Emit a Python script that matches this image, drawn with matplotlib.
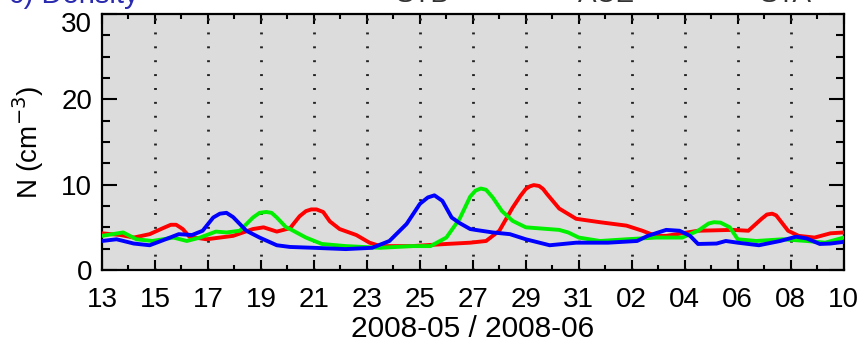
import numpy as np
import pandas as pd
import matplotlib
matplotlib.use("Agg")
import matplotlib.pyplot as plt
import matplotlib.dates as mdates
from matplotlib.transforms import ScaledTranslation

plt.rcParams['font.family'] = ['Liberation Sans', 'DejaVu Sans']

START = pd.Timestamp("2008-05-13")
END = pd.Timestamp("2008-06-10")

# Proton density samples: (days since 2008-05-13, N in cm^-3)
red_days = [0, 0.7, 1.2, 1.8, 2.3, 2.6, 2.8, 3.05, 3.3, 3.95, 4.95, 5.7, 6.1, 6.6,
            7.1, 7.46, 7.7, 7.9, 8.1, 8.35, 8.6, 8.97, 9.6, 10.1, 10.5, 11.7,
            13.0, 13.9, 14.5, 15.0, 15.5, 15.8, 16.0, 16.15, 16.3, 16.5, 16.65,
            16.8, 17.26, 17.9, 18.8, 19.8, 20.4, 20.9, 21.3, 22.5, 23.8, 24.4,
            24.9, 25.1, 25.3, 25.45, 25.9, 26.3, 26.9, 27.5, 28.0]
red_n = [4.3, 4.1, 3.8, 4.2, 4.9, 5.3, 5.3, 4.8, 3.9, 3.6, 4.0, 4.8, 5.0, 4.5,
         4.9, 6.3, 6.9, 7.1, 7.1, 6.8, 5.7, 4.8, 4.1, 3.2, 2.8, 2.8,
         3.05, 3.2, 3.4, 4.6, 7.3, 8.7, 9.5, 9.8, 9.95, 9.85, 9.5,
         8.9, 7.2, 6.0, 5.6, 5.2, 4.6, 4.0, 4.0, 4.6, 4.7, 4.6,
         6.0, 6.5, 6.6, 6.4, 4.6, 4.0, 3.8, 4.3, 4.4]

green_days = [0, 0.8, 1.3, 1.9, 2.7, 3.2, 3.7, 4.3, 4.7, 5.2, 5.7, 5.95, 6.2, 6.4,
              6.6, 6.95, 7.1, 7.7, 8.3, 9.2, 10.5, 11.7, 12.4, 13.0, 13.5, 13.9,
              14.1, 14.3, 14.5, 14.75, 15.1, 15.5, 16.0, 17.26, 17.6, 18.0, 18.8,
              19.8, 20.9, 21.9, 22.5, 22.9, 23.1, 23.35, 23.7, 24.0, 24.7, 25.7,
              26.6, 27.3, 28.0]
green_n = [4.0, 4.4, 3.6, 3.4, 3.8, 3.4, 3.8, 4.5, 4.4, 4.6, 6.15, 6.7, 6.8, 6.7,
           6.15, 5.0, 4.8, 3.8, 3.05, 2.8, 2.6, 2.8, 2.8, 3.8, 6.0, 8.6,
           9.3, 9.55, 9.4, 8.5, 6.9, 5.76, 5.0, 4.7, 4.4, 3.8, 3.4,
           3.6, 3.8, 3.8, 4.6, 5.45, 5.6, 5.55, 5.0, 3.6, 3.4, 3.6,
           3.4, 3.2, 3.8]

blue_days = [0, 0.55, 1.2, 1.8, 2.4, 2.9, 3.4, 3.8, 4.2, 4.45, 4.7, 4.95, 5.45,
             5.95, 6.6, 7.1, 8.0, 9.2, 10.2, 10.85, 11.5, 12.0, 12.3, 12.55,
             12.85, 13.2, 13.5, 13.9, 14.1, 14.75, 15.4, 16.0, 16.9, 17.9, 19.1,
             20.2, 20.6, 21.3, 21.8, 22.2, 22.5, 23.2, 23.55, 24.0, 24.8, 25.6,
             26.2, 26.6, 27.1, 27.5, 28.0]
blue_n = [3.4, 3.6, 3.1, 2.9, 3.6, 4.2, 4.1, 4.6, 6.15, 6.6, 6.7, 6.2, 4.6,
          3.8, 2.9, 2.7, 2.6, 2.45, 2.6, 3.4, 5.4, 7.75, 8.5, 8.75,
          8.1, 6.15, 5.5, 4.8, 4.7, 4.4, 4.2, 3.6, 2.9, 3.2, 3.2,
          3.4, 4.0, 4.7, 4.6, 4.0, 3.05, 3.1, 3.4, 3.2, 2.9, 3.4,
          3.9, 3.7, 3.05, 3.1, 3.3]

header_labels = ["STB", "ACE", "STA"]

FS = 20


def to_time(days):
    return START + pd.to_timedelta(np.asarray(days), unit="D")


fig = plt.figure(figsize=(8.62, 3.45), dpi=100)
ax = fig.add_axes([0.1183, 0.2174, 0.8605, 0.7420])
ax.set_facecolor("#dcdcdc")

for days, vals, col in [(red_days, red_n, "#ff0000"),
                        (green_days, green_n, "#00f000"),
                        (blue_days, blue_n, "#0000ff")]:
    ax.plot(to_time(days), vals, color=col, lw=2.8, solid_joinstyle="round",
            solid_capstyle="round", zorder=3)

ax.set_xlim(START, END)
ax.set_ylim(0, 30)

major = pd.date_range(START, END, freq="2D")
minor = pd.date_range(START, END, freq="1D")
ax.set_xticks(major)
ax.set_xticks(minor, minor=True)
ax.xaxis.set_major_formatter(mdates.DateFormatter("%d"))
ax.set_yticks([0, 10, 20, 30])
ax.set_yticks(np.arange(0, 30.1, 2.5), minor=True)

for t in major[1:-1]:
    ax.axvline(t, color="#222222", lw=2.0, ls=(0, (0.7, 4.3)), zorder=2)

ax.tick_params(axis="both", which="both", direction="in", top=True, right=True,
               labelsize=FS, color="black")
ax.tick_params(axis="x", which="major", length=7, width=1.5, pad=12)
ax.tick_params(axis="x", which="minor", length=3.5, width=1.5)
ax.tick_params(axis="y", which="major", length=11, width=1.5, pad=7)
ax.tick_params(axis="y", which="minor", length=5.5, width=1.5)
for s in ax.spines.values():
    s.set_linewidth(1.6)

# the top y label sits a little below its tick
ylabels = ax.get_yticklabels()
ylabels[-1].set_transform(ylabels[-1].get_transform() +
                          ScaledTranslation(0, -6 / 72, fig.dpi_scale_trans))

ax.set_xlabel("2008-05 / 2008-06", fontsize=FS + 1.5, labelpad=2)
ax.set_ylabel("N (cm$^{-3}$)", fontsize=FS, labelpad=11)

fig.text(0.01, 0.992, "c) Density", color="#2a2ab0", fontsize=FS + 1,
         ha="left", va="baseline")
for x, lab in zip([0.49, 0.704, 0.911], header_labels):
    fig.text(x, 0.995, lab, color="#333333", fontsize=FS, ha="center",
             va="baseline")

fig.savefig("out.png", dpi=100)
